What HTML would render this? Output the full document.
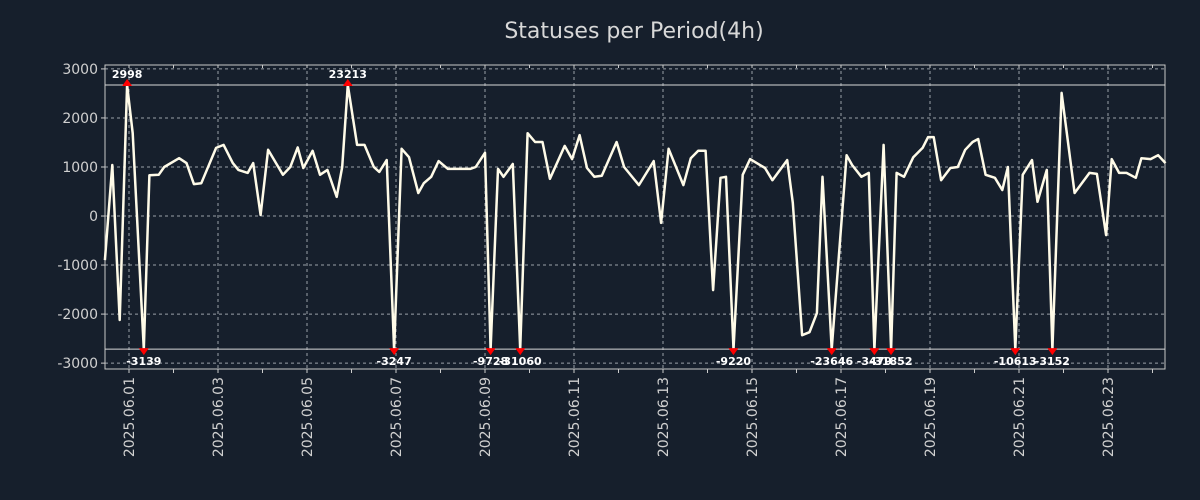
<!DOCTYPE html>
<html><head><meta charset="utf-8"><style>
html,body{margin:0;padding:0;background:#161f2c;}
svg{display:block;font-family:"DejaVu Sans","Liberation Sans",sans-serif;}
</style></head><body>
<svg id="chart" width="1200" height="500" xmlns="http://www.w3.org/2000/svg">
<rect width="1200" height="500" fill="#161f2c"/>
<text x="634" y="38" text-anchor="middle" font-size="22" fill="#d8d8d8">Statuses per Period(4h)</text>
<g id="grid"></g>
<g id="axes"></g>
<g id="series"></g>
<g id="marks"></g>
</svg>
<script>
// hours since 2025-06-01 00:00
const hours = [-13,-9,-5,-1,2,8,11,16,19,27,31,35,39,47,51,56,59,64,67,71,75,83,87,91,94,99,103,107,112,115,118,123,127,132,135,139,143,147,151,156,159,163,167,172,184,187,192,195,199,202,207,211,215,219,223,227,235,239,243,247,251,255,263,267,275,283,287,291,299,303,307,311,315,319,322,326,331,335,343,347,355,358,363,367,371,374,379,387,390,395,399,402,407,411,414,418,423,428,431,434,438,443,447,451,455,458,462,467,471,474,478,482,487,490,495,498,503,510,518,522,527,530,534,538,543,546,551,555,559];
const values = [-900,1040,-2120,2998,1690,-3139,830,840,1000,1180,1080,650,670,1390,1450,1080,940,880,1080,20,1350,840,1000,1400,980,1330,840,940,390,1000,23213,1450,1450,1000,900,1140,-3247,1370,1200,470,670,800,1120,960,960,1000,1290,-9728,960,800,1060,-31060,1690,1510,1510,760,1430,1160,1650,980,800,820,1510,1000,630,1120,-140,1370,630,1180,1330,1330,-1510,780,800,-9220,840,1160,980,730,1140,270,-2430,-2370,-1980,800,-23646,1240,1040,800,880,-3479,1450,-31852,880,800,1200,1390,1610,1610,730,980,1000,1350,1510,1570,840,780,530,1000,-10613,840,1140,290,940,-3152,2510,470,880,860,-390,1160,880,880,780,1180,1160,1240,1080];
const yTicks = [3000,2000,1000,0,-1000,-2000,-3000];
const dateLabels = ["2025.06.01","2025.06.03","2025.06.05","2025.06.07","2025.06.09","2025.06.11","2025.06.13","2025.06.15","2025.06.17","2025.06.19","2025.06.21","2025.06.23"];
const clipHigh = 2673, clipLow = -2714;

const L=105,R=1165,T=65,B=369, yMin=-3120, yMax=3080;
const dayPx=44.5, x0=129;
const X=h=>x0+h/24*dayPx;
const Y=v=>B-(v-yMin)/(yMax-yMin)*(B-T);
const NS="http://www.w3.org/2000/svg";
function mk(tag,attrs,parent){const e=document.createElementNS(NS,tag);for(const k in attrs)e.setAttribute(k,attrs[k]);parent.appendChild(e);return e;}
const grid=document.getElementById('grid'),axes=document.getElementById('axes'),series=document.getElementById('series'),marks=document.getElementById('marks');

yTicks.forEach(v=>{
  const g=mk('line',{x1:L,x2:R,y1:Y(v),y2:Y(v),stroke:'#9aa0a8','stroke-width':1,'stroke-dasharray':'3,3'},grid);
  
  
  const t=mk('text',{x:L-7,y:Y(v)+5,'text-anchor':'end','font-size':14,fill:'#d0d0d0'},axes);
  t.textContent=String(v);
  
  
  mk('line',{x1:L-4,x2:L,y1:Y(v),y2:Y(v),stroke:'#ccc'},axes);
});
dateLabels.forEach((d,i)=>{
  const x=X(i*48);
  const g=mk('line',{x1:x,x2:x,y1:T,y2:B,stroke:'#9aa0a8','stroke-width':1,'stroke-dasharray':'3,3'},grid);
  
  
  const t=mk('text',{x:0,y:0,'text-anchor':'end','font-size':14,fill:'#d0d0d0',transform:`translate(${x+5},${B+8}) rotate(-90)`},axes);
  t.textContent=d;
  
  
});
for(let d=-1;d<=24;d++){const x=X(d*24);if(x<L||x>R)continue;
  mk('line',{x1:x,x2:x,y1:B,y2:B+4,stroke:'#ccc'},axes);
  mk('line',{x1:x,x2:x,y1:T,y2:T+3,stroke:'#ccc'},axes);}
const frame=mk('rect',{x:L,y:T,width:R-L,height:B-T,fill:'none',stroke:'#c8c8c8','stroke-width':1},axes);


[clipHigh,clipLow].forEach(v=>{
  const l=mk('line',{x1:L,x2:R,y1:Y(v),y2:Y(v),stroke:'#d8d8d8','stroke-width':1},axes);
  
  
});
const cv=v=>Math.max(clipLow,Math.min(clipHigh,v));
const pts=hours.map((h,i)=>X(h).toFixed(1)+','+Y(cv(values[i])).toFixed(1)).join(' ');
const line=mk('polyline',{points:pts,fill:'none',stroke:'#fffbe8','stroke-width':2.5,'stroke-linejoin':'round'},series);


hours.forEach((h,i)=>{
  const v=values[i];
  if(v<=clipHigh && v>=clipLow) return;
  const x=X(h), y=Y(cv(v)), up=v>clipHigh;
  const tri=mk('polygon',{points:up?`${x-5},${y+1} ${x+5},${y+1} ${x},${y-6}`:`${x-5},${y-1} ${x+5},${y-1} ${x},${y+6}`,fill:'#ff0000'},marks);
  
  
  const t=mk('text',{x:x,y:up?y-7:y+16,'text-anchor':'middle','font-size':11,'font-weight':'bold',fill:'#ffffff'},marks);
  t.textContent=String(v);
  
  
});
</script>
</body></html>
